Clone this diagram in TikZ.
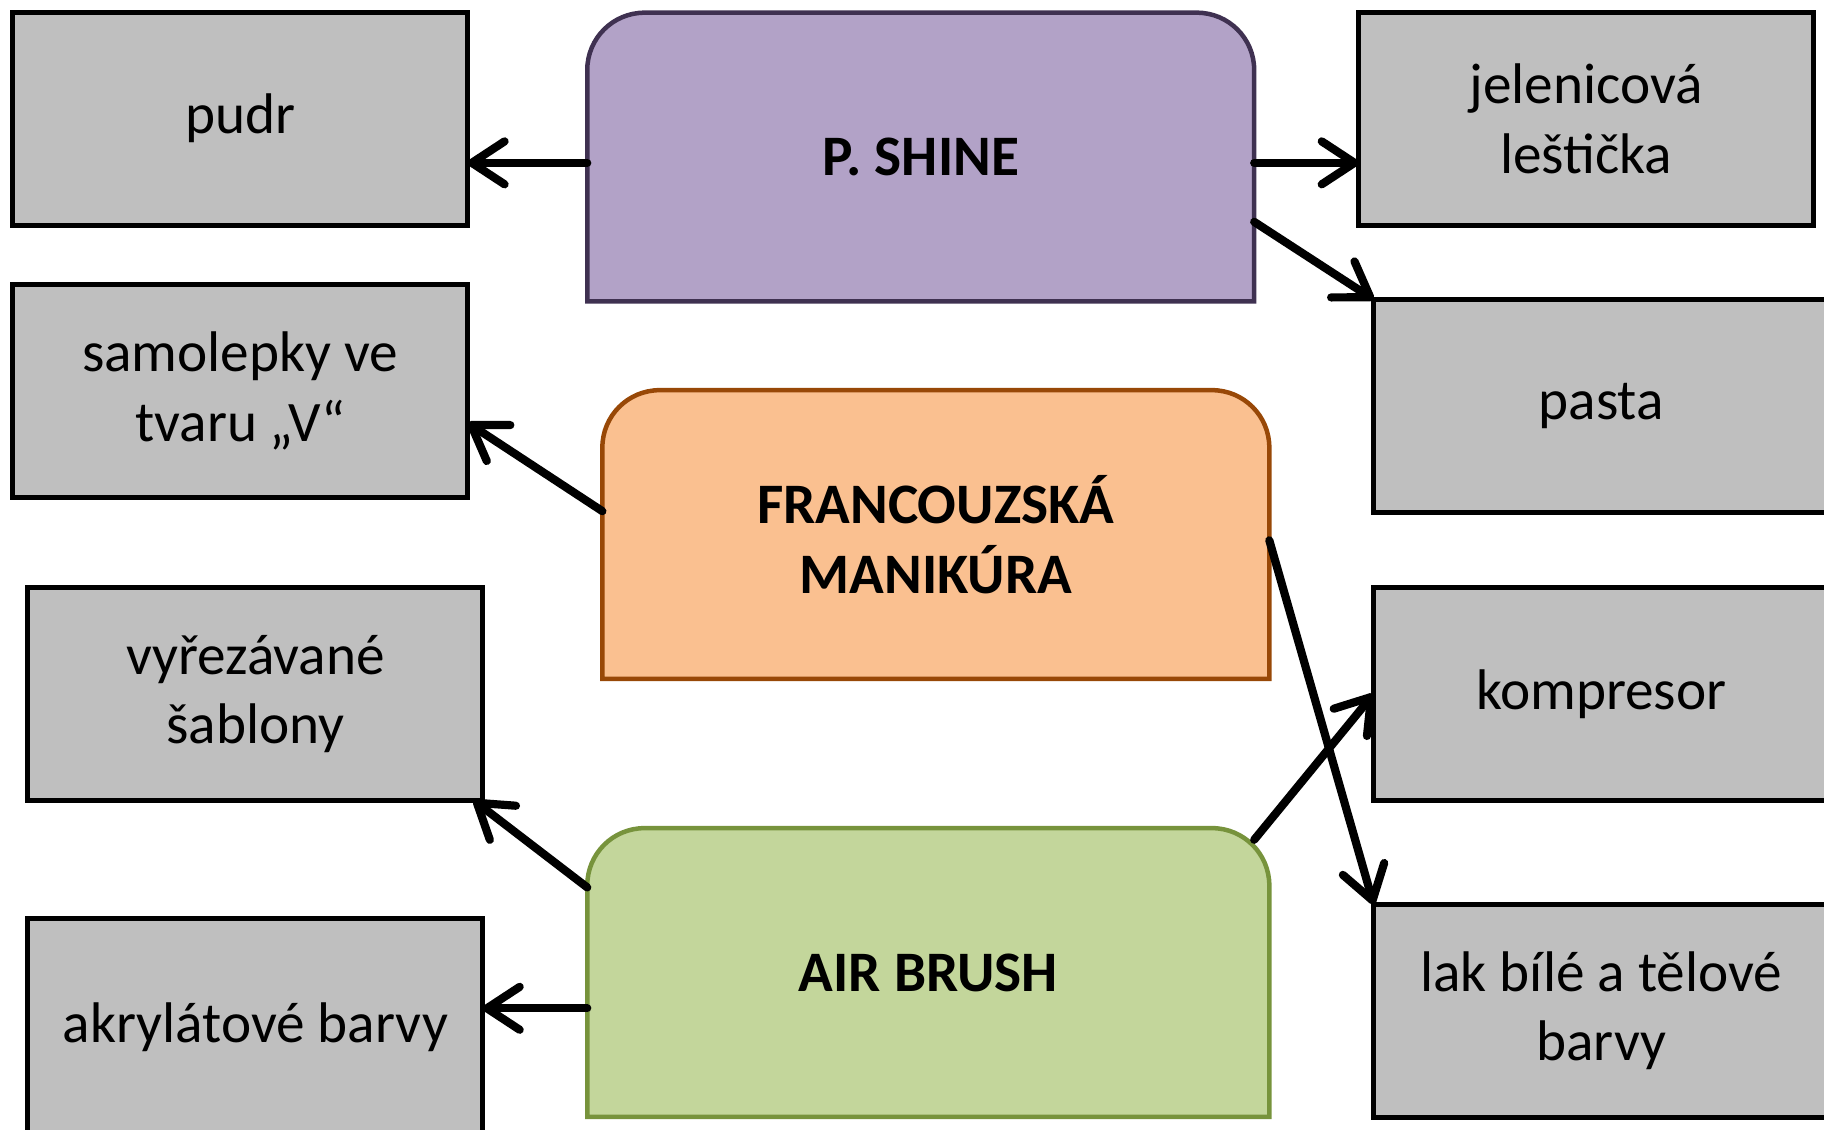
\documentclass[tikz,border=0pt]{standalone}
\usepackage{fontspec}
\setmainfont{Carlito}
\usetikzlibrary{arrows.meta,backgrounds}
\definecolor{greybox}{HTML}{BFBFBF}
\definecolor{shinefill}{HTML}{B2A2C7}
\definecolor{shineline}{HTML}{3F3151}
\definecolor{francfill}{HTML}{FAC090}
\definecolor{francline}{HTML}{984807}
\definecolor{airfill}{HTML}{C3D69B}
\definecolor{airline}{HTML}{77933C}

\begin{document}
\begin{tikzpicture}[x=0.01cm,y=-0.01cm,
  item/.style={draw=black,line width=1.2pt,fill=greybox,minimum width=3.91cm,minimum height=1.83cm,
    inner sep=0pt,outer sep=0pt,align=center,font=\fontsize{14}{17}\selectfont},
  topic/.style={minimum width=5.73cm,minimum height=2.48cm,inner sep=0pt,outer sep=0pt,
    align=center,font=\fontsize{14}{17}\selectfont\bfseries},
  tab/.style={line width=1.1pt,rounded corners=14pt},
  arr/.style={line width=2pt,line cap=round,-{Straight Barb[length=8pt,width=10.5pt,round]}}]
  \useasboundingbox (0,0) rectangle (1568,971);
  \node[item] (pudr) at (206.5,102) {pudr};
  \node[item] (samol) at (206.5,336) {samolepky ve\\tvaru „V“};
  \node[item] (sablony) at (219.5,596.5) {vyřezávané\\šablony};
  \node[item,minimum height=1.86cm] (akryl) at (219.5,883) {akrylátové barvy};
  \node[item] (jelen) at (1363.5,102) {jelenicová\\leštička};
  \node[item] (pasta) at (1376.5,349) {pasta};
  \node[item] (kompr) at (1376.5,596.5) {kompresor};
  \node[item] (lak) at (1376.5,869) {lak bílé a tělové\\barvy};
  \node[topic] (shine) at (791.5,135) {P. SHINE};
  \node[topic] (franc) at (804.5,459.5) {FRANCOUZSKÁ\\MANIKÚRA};
  \node[topic,minimum width=5.86cm] (air) at (798,836) {AIR BRUSH};
  \begin{scope}[on background layer]
    \path[tab,fill=shinefill,draw=shineline] (shine.south west) -- (shine.north west) -- (shine.north east) [sharp corners] -- (shine.south east) -- cycle;
    \path[tab,fill=francfill,draw=francline] (franc.south west) -- (franc.north west) -- (franc.north east) [sharp corners] -- (franc.south east) -- cycle;
    \path[tab,fill=airfill,draw=airline] (air.south west) -- (air.north west) -- (air.north east) [sharp corners] -- (air.south east) -- cycle;
  \end{scope}
  \draw[arr] (shine.181.2) -- (shine.181.2 -| pudr.east);
  \draw[arr] (shine.-1.2) -- (shine.-1.2 -| jelen.west);
  \draw[arr] (shine.-11.3) -- (pasta.north west);
  \draw[arr] (franc.176) -- (samol.-8);
  \draw[arr] (franc.-1.3) -- (lak.north west);
  \draw[arr] ([shift={(-13,10)}]air.north east) -- (kompr.west);
  \draw[arr] (air.166.4) -- (sablony.-26);
  \draw[arr] (air.186.2) -- (air.186.2 -| akryl.east);
\end{tikzpicture}
\end{document}
